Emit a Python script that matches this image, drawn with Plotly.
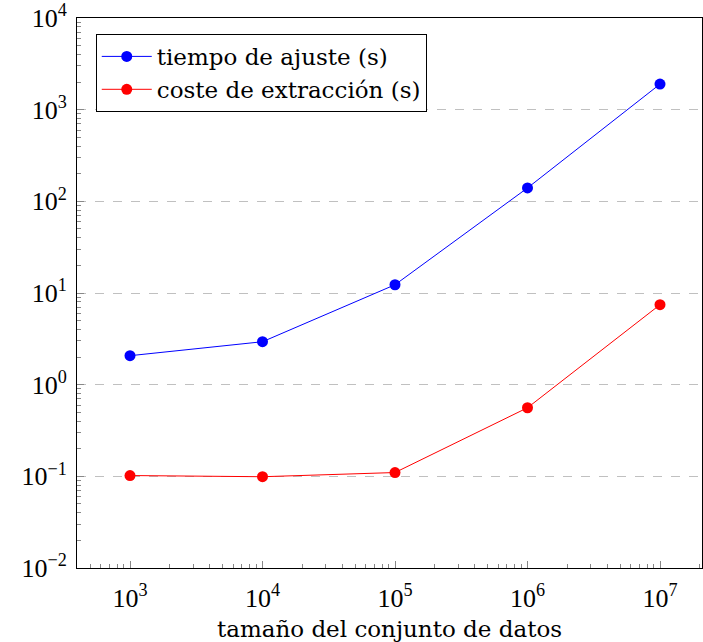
import plotly.graph_objects as go

sizes = [1e3, 1e4, 1e5, 1e6, 1e7]
tiempo_ajuste = [2.07, 2.94, 12.3, 140, 1900]
coste_extraccion = [0.102, 0.099, 0.11, 0.56, 7.45]
names = ["tiempo de ajuste (s)", "coste de extracción (s)"]
x_title = "tamaño del conjunto de datos"
x_tickvals = [1e3, 1e4, 1e5, 1e6, 1e7]
x_ticktext = ["10<sup>3</sup>", "10<sup>4</sup>", "10<sup>5</sup>", "10<sup>6</sup>", "10<sup>7</sup>"]
y_tickvals = [1e-2, 1e-1, 1e0, 1e1, 1e2, 1e3, 1e4]
y_ticktext = ["10<sup>−2</sup>", "10<sup>−1</sup>", "10<sup>0</sup>", "10<sup>1</sup>",
              "10<sup>2</sup>", "10<sup>3</sup>", "10<sup>4</sup>"]

TXT_FONT = "DejaVu Serif"
TICK_FONT = "Liberation Serif"
FS = 23
TFS = 26

fig = go.Figure()
fig.add_trace(go.Scatter(x=sizes, y=tiempo_ajuste, mode="lines+markers", name=names[0],
                         line=dict(color="#0000ff", width=1),
                         marker=dict(color="#0000ff", size=11)))
fig.add_trace(go.Scatter(x=sizes, y=coste_extraccion, mode="lines+markers", name=names[1],
                         line=dict(color="#ff0000", width=1),
                         marker=dict(color="#ff0000", size=11)))

fig.update_layout(
    width=703, height=642,
    margin=dict(l=77, r=1, t=18, b=74),
    paper_bgcolor="white", plot_bgcolor="white",
    font=dict(family=TXT_FONT, size=FS, color="black"),
    legend=dict(x=0.03, y=0.971, xanchor="left", yanchor="top",
                bordercolor="black", borderwidth=1, bgcolor="white",
                font=dict(family=TXT_FONT, size=FS), tracegroupgap=0, itemwidth=50),
    xaxis=dict(type="log", range=[2.6, 7.317],
               tickmode="array", tickvals=x_tickvals, ticktext=x_ticktext,
               showgrid=False, zeroline=False,
               showline=True, linecolor="black", linewidth=1, mirror=True,
               ticks="inside", ticklen=7, tickcolor="#888888", ticklabelstandoff=7,
               minor=dict(ticks="inside", ticklen=4, tickcolor="#888888", dtick="D1", showgrid=False),
               title=dict(text=x_title, font=dict(family=TXT_FONT, size=FS), standoff=8),
               tickfont=dict(family=TICK_FONT, size=TFS)),
    yaxis=dict(type="log", range=[-2, 4],
               tickmode="array", tickvals=y_tickvals, ticktext=y_ticktext,
               showgrid=True, gridcolor="#c0c0c0", griddash="dash", gridwidth=1,
               zeroline=False,
               showline=True, linecolor="black", linewidth=1, mirror=True,
               ticks="inside", ticklen=7, tickcolor="#888888", ticklabelstandoff=4,
               minor=dict(ticks="inside", ticklen=4, tickcolor="#888888", dtick="D1", showgrid=False),
               tickfont=dict(family=TICK_FONT, size=TFS)),
)

fig.write_html("out.html")
